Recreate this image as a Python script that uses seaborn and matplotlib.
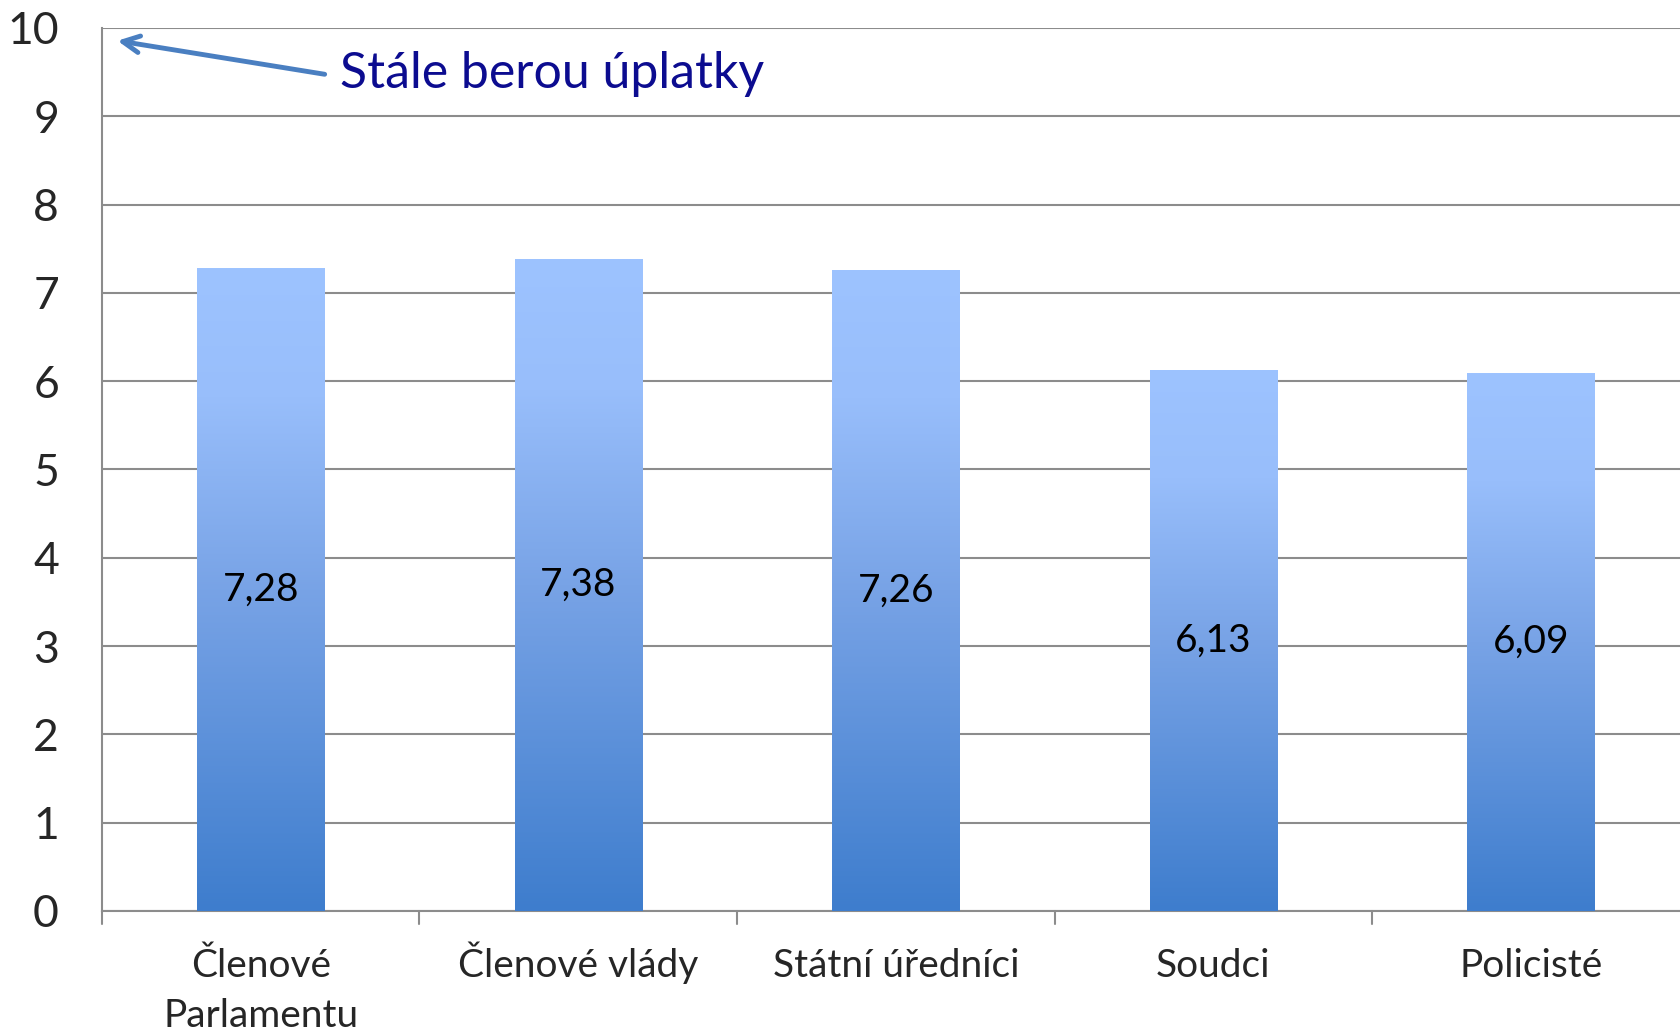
import numpy as np
import pandas as pd
import matplotlib
matplotlib.use("Agg")
import matplotlib.pyplot as plt
import seaborn as sns
from matplotlib.colors import LinearSegmentedColormap
from matplotlib.transforms import ScaledTranslation

categories = ["Členové\nParlamentu", "Členové vlády", "Státní úředníci", "Soudci", "Policisté"]
values = [7.28, 7.38, 7.26, 6.13, 6.09]
value_labels = ["7,28", "7,38", "7,26", "6,13", "6,09"]
y_ticks = [0, 1, 2, 3, 4, 5, 6, 7, 8, 9, 10]

df = pd.DataFrame({"group": categories, "score": values})

sns.set_style("white")
plt.rcParams["font.family"] = ["Lato", "DejaVu Sans"]

fig = plt.figure(figsize=(16.8, 10.34), dpi=100)
ax = fig.add_axes([0.0607, 0.119, 0.9393, 0.854])

sns.barplot(data=df, x="group", y="score", color="#7aa6ea", width=0.4, ax=ax, zorder=3)

# gradient fill for each bar (light on top, darker at the bottom)
grad = LinearSegmentedColormap.from_list(
    "bar_grad", [(0.0, "#3e7dcd"), (0.5, "#78a3e6"), (0.8, "#98befb"), (1.0, "#9dc3ff")]
)
ramp = np.linspace(0, 1, 256).reshape(-1, 1)
for patch in ax.patches:
    x0, y0 = patch.get_x(), patch.get_y()
    w, h = patch.get_width(), patch.get_height()
    patch.set_facecolor("none")
    patch.set_edgecolor("none")
    im = ax.imshow(ramp, cmap=grad, aspect="auto", origin="lower",
                   extent=[x0, x0 + w, y0, y0 + h], zorder=3)
    im.set_clip_path(patch)

for i, (v, lab) in enumerate(zip(values, value_labels)):
    ax.text(i, v / 2, lab, ha="center", va="center", fontsize=28, color="black", zorder=5)

ax.set_xlim(-0.5, 4.47)
ax.set_ylim(0, 10)
ax.set_yticks(y_ticks)
ax.yaxis.grid(True, color="#8c8c8c", linewidth=1.5, zorder=0)
ax.set_axisbelow(True)
ax.set_xlabel("")
ax.set_ylabel("")

for side in ["top", "right"]:
    ax.spines[side].set_visible(False)
ax.spines["left"].set_color("#8c8c8c")
ax.spines["left"].set_linewidth(1.5)
ax.spines["bottom"].set_color("#8c8c8c")
ax.spines["bottom"].set_linewidth(1.5)

ax.tick_params(axis="y", labelsize=32, length=0, pad=31)
ax.tick_params(axis="x", labelsize=28, length=0, pad=27)
ax.set_xticks(range(len(categories)))
ax.set_xticklabels(categories, linespacing=1.45, va="top")

# this one sits a little low with va="top", nudge it up to line up with the others
lbl = ax.get_xticklabels()[1]
lbl.set_transform(lbl.get_transform() + ScaledTranslation(0, 6.5 / 100, fig.dpi_scale_trans))

# boundary ticks between categories
for b in np.arange(-0.5, len(categories), 1.0):
    ax.plot([b, b], [0, -0.15], color="#8c8c8c", linewidth=1.5, clip_on=False, zorder=4)

ax.annotate("", xy=(-0.46, 9.86), xytext=(0.21, 9.47),
            arrowprops=dict(arrowstyle="->", color="#4a7fc1", lw=3.5, mutation_scale=30),
            zorder=6)
ax.text(0.25, 9.48, "Stále berou úplatky", fontsize=36, color="#0c0c90",
        ha="left", va="center", zorder=6)

fig.savefig("out.png", dpi=100)
